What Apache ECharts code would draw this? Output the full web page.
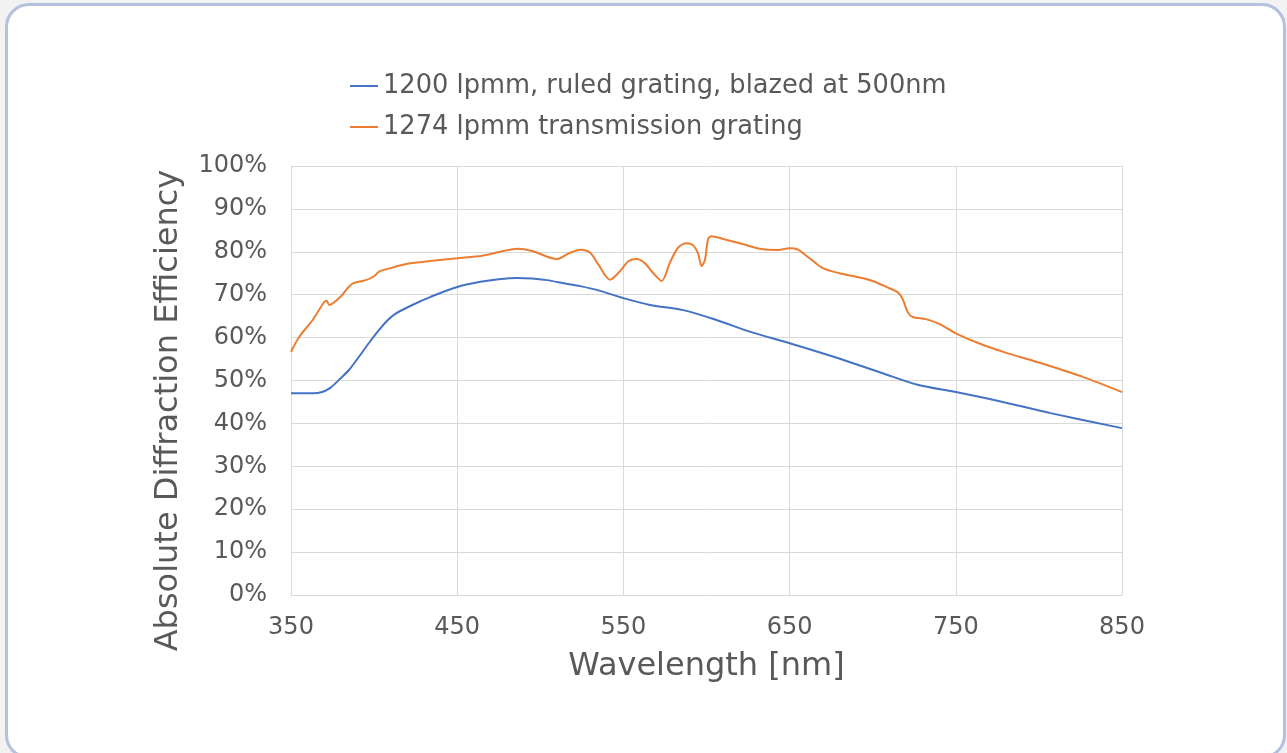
<!DOCTYPE html>
<html>
<head>
<meta charset="utf-8">
<script src="https://cdn.jsdelivr.net/npm/echarts@6/dist/echarts.min.js"></script>
<style>
html,body{margin:0;padding:0;background:#f2f2f2;width:1287px;height:753px;overflow:hidden;}
#card{position:absolute;left:5px;top:3px;width:1275px;height:750px;border:3px solid #b3c0de;border-radius:24px;background:#fff;}
#main{position:absolute;left:0;top:0;width:1287px;height:753px;}
</style>
</head>
<body>
<div id="card"></div>
<div id="main"></div>
<script>
const seriesNames = ['1200 lpmm, ruled grating, blazed at 500nm', '1274 lpmm transmission grating'];
const xTicks = [350, 450, 550, 650, 750, 850];
const yTicks = [0, 10, 20, 30, 40, 50, 60, 70, 80, 90, 100];

const ruledWavelength = [350, 360, 366, 370, 374, 379, 385, 391, 397, 403, 408, 413, 423, 434, 450, 464, 475, 486, 495, 504, 515, 524, 535, 550, 566, 586, 606, 626, 650, 676, 706, 727, 750, 777, 807, 850];
const ruledEfficiency = [47.0, 47.0, 47.1, 47.5, 48.4, 50.2, 52.5, 55.6, 58.8, 61.8, 64.0, 65.6, 67.6, 69.5, 71.8, 73.0, 73.6, 73.9, 73.8, 73.4, 72.6, 72.0, 71.0, 69.2, 67.6, 66.4, 64.1, 61.4, 58.7, 55.6, 51.7, 49.0, 47.3, 45.1, 42.4, 38.9];

const transWavelength = [350, 355, 363, 370, 371.5, 373, 380, 384, 387, 395, 400, 403, 410, 420, 435, 450, 465, 478, 486, 495, 510, 517, 524, 530, 535, 542, 548, 553, 558, 563, 568, 573, 578, 583, 588, 592, 595, 597, 599, 601, 603, 610, 620, 632, 642, 650, 655, 662, 670, 680, 690, 700, 710, 715, 718, 721, 724, 732, 740, 750, 765, 780, 800, 826, 850];
const transEfficiency = [56.7, 60.2, 64.1, 68.3, 68.6, 67.6, 69.6, 71.5, 72.6, 73.4, 74.3, 75.4, 76.2, 77.2, 77.9, 78.5, 79.1, 80.2, 80.7, 80.2, 78.3, 79.6, 80.5, 79.8, 77.0, 73.5, 75.5, 77.8, 78.3, 77.3, 75.0, 73.2, 77.5, 81.0, 82.0, 81.5, 79.5, 76.7, 78.0, 83.0, 83.6, 83.0, 82.0, 80.7, 80.4, 80.8, 80.5, 78.5, 76.2, 75.0, 74.2, 73.2, 71.5, 70.6, 69.0, 66.0, 64.8, 64.3, 63.2, 61.0, 58.5, 56.5, 54.2, 50.9, 47.3];

const pairs = (xs, ys) => xs.map((x, i) => [x, ys[i]]);
const FONT = 'DejaVu Sans';
const TXT = '#595959';
const GRID = '#d9d9d9';

const chart = echarts.init(document.getElementById('main'), null, {renderer: 'canvas'});
chart.setOption({
  backgroundColor: 'transparent',
  animation: false,
  textStyle: {fontFamily: FONT},
  legend: {
    orient: 'vertical',
    left: 350,
    top: 73,
    padding: 0,
    itemWidth: 28,
    itemHeight: 2,
    itemGap: 15,
    icon: 'rect',
    textStyle: {fontFamily: FONT, fontSize: 25.7, color: TXT},
    data: seriesNames
  },
  grid: {left: 291, right: 165, top: 166, bottom: 158, containLabel: false},
  xAxis: {
    type: 'value',
    min: xTicks[0],
    max: xTicks[xTicks.length - 1],
    name: 'Wavelength [nm]',
    nameLocation: 'middle',
    nameGap: 56,
    nameTextStyle: {fontFamily: FONT, fontSize: 32, color: TXT},
    axisLine: {show: true, lineStyle: {color: GRID, width: 1}},
    axisTick: {show: false, customValues: xTicks},
    axisLabel: {customValues: xTicks, fontFamily: FONT, fontSize: 24, color: TXT, margin: 21},
    splitLine: {show: true, lineStyle: {color: GRID, width: 1}}
  },
  yAxis: {
    type: 'value',
    min: yTicks[0],
    max: yTicks[yTicks.length - 1],
    interval: 10,
    name: 'Absolute Diffraction Efficiency',
    nameLocation: 'middle',
    nameGap: 106,
    nameTextStyle: {fontFamily: FONT, fontSize: 32, color: TXT, padding: [0, 60, 0, 0]},
    axisLine: {show: true, lineStyle: {color: GRID, width: 1}},
    axisTick: {show: false},
    axisLabel: {formatter: '{value}%', fontFamily: FONT, fontSize: 24, color: TXT, margin: 24},
    splitLine: {show: true, lineStyle: {color: GRID, width: 1}}
  },
  series: [
    {
      name: seriesNames[0],
      type: 'line',
      data: pairs(ruledWavelength, ruledEfficiency),
      smooth: 0.3,
      showSymbol: false,
      lineStyle: {color: '#4472C4', width: 2},
      itemStyle: {color: '#4472C4'}
    },
    {
      name: seriesNames[1],
      type: 'line',
      data: pairs(transWavelength, transEfficiency),
      smooth: 0.3,
      showSymbol: false,
      lineStyle: {color: '#ED7D31', width: 2},
      itemStyle: {color: '#ED7D31'}
    }
  ]
});
</script>
</body>
</html>
